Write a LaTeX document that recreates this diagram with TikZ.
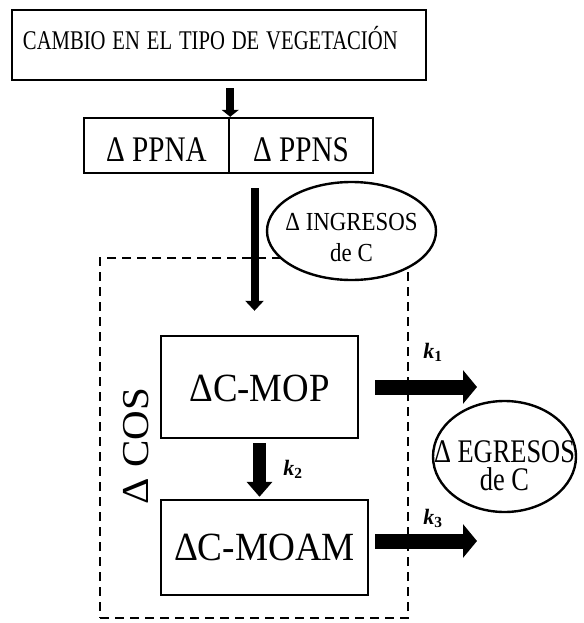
\documentclass[tikz,border=0pt]{standalone}
\usepackage{fontspec}
\setmainfont{Liberation Serif}
\usepackage{graphicx}
\usetikzlibrary{arrows.meta,shapes.geometric}
\newcommand{\sq}[2]{\scalebox{#1}[1]{#2}}
\newcommand{\ovaltext}[2]{\makebox[0pt]{\raisebox{#1}[0pt][0pt]{\begin{tabular}[t]{@{}c@{}}#2\end{tabular}}}}
\begin{document}
\begin{tikzpicture}[x=1pt,y=-1pt,
  bx/.style={draw, line width=2.4pt, inner sep=0pt, text depth=0pt},
  oval/.style={ellipse, draw, line width=2.4pt, fill=white, inner sep=0pt},
  klab/.style={font=\fontsize{22pt}{24pt}\selectfont\bfseries\itshape},
  cosbox/.style={draw, line width=2.2pt, dash pattern=on 9pt off 6pt, inner sep=0pt}]
\useasboundingbox (0,0) rectangle (583,623);

% boxes
\node[bx, minimum width=414pt, minimum height=70pt, text width=400pt, inner xsep=7pt,
      align=left, text height=10pt, font=\fontsize{27pt}{30pt}\selectfont]
      (top) at (219,45) {\hspace*{4pt}\sq{0.765}{CAMBIO EN EL TIPO DE VEGETACIÓN}};
\node[bx, minimum width=145pt, minimum height=55pt, text height=31pt,
      font=\fontsize{36pt}{40pt}\selectfont] (ppna) at (156.5,145.5) {\sq{0.81}{Δ PPNA}};
\node[bx, minimum width=144pt, minimum height=55pt, text height=31pt,
      font=\fontsize{36pt}{40pt}\selectfont] (ppns) at (301,145.5) {\sq{0.81}{Δ PPNS}};

\node[cosbox, minimum width=308pt, minimum height=360pt] (cos) at (254,438) {};

\node[bx, minimum width=197pt, minimum height=102pt, text height=28pt,
      font=\fontsize{40pt}{44pt}\selectfont] (mop) at (259.5,387) {\sq{0.92}{ΔC-MOP}};
\node[bx, minimum width=207pt, minimum height=95pt, text height=25pt,
      font=\fontsize{40pt}{44pt}\selectfont] (moam) at (264.5,547.5) {\sq{0.93}{ΔC-MOAM}};

\node[rotate=90, inner sep=0pt, text height=25pt, text depth=0pt,
      font=\fontsize{38pt}{40pt}\selectfont] (coslab) at (135.5,446) {\sq{1.08}{Δ COS}};

% ellipses
\node[oval, minimum width=169pt, minimum height=98pt, font=\fontsize{26pt}{31pt}\selectfont]
      (ing) at (351.5,231) {\ovaltext{1pt}{\sq{0.88}{Δ INGRESOS}\\\sq{0.88}{de C}}};
\node[oval, minimum width=143pt, minimum height=111pt, font=\fontsize{33pt}{28pt}\selectfont]
      (egr) at (504.5,456.5) {\ovaltext{-5.5pt}{\sq{0.8}{Δ EGRESOS}\\[-3pt]\sq{0.8}{de C}}};

% arrows
\coordinate (a1) at (top.south -| ppna.north east);
\draw[line width=8pt, -{Triangle[length=7pt,width=17pt]}, shorten <=7pt]
  (a1) -- (ppna.north east);

\path ([xshift=-5pt]mop.north) coordinate (a2e);
\coordinate (a2s) at (a2e |- ppna.south);
\draw[line width=8pt, -{Triangle[length=10pt,width=18pt]}, shorten <=14pt, shorten >=24pt]
  (a2s) -- (a2e);

\coordinate (k2e) at (mop.south |- moam.north);
\draw[line width=13pt, -{Triangle[length=15pt,width=25pt]}, shorten <=4pt, shorten >=2pt]
  (mop.south) -- (k2e);

\coordinate (k1e) at (477,387);
\draw[line width=15pt, -{Triangle[length=14pt,width=33pt]}, shorten <=16pt]
  (mop.east) -- (k1e);

\coordinate (k3e) at (477,541);
\coordinate (k3s) at (moam.east |- k3e);
\draw[line width=15pt, -{Triangle[length=14pt,width=33pt]}, shorten <=6pt]
  (k3s) -- (k3e);

% labels
\node[klab] (k1) at (433,352) {k\textsubscript{\upshape 1}};
\node[klab] (k2) at (293,469) {k\textsubscript{\upshape 2}};
\node[klab] (k3) at (433,518) {k\textsubscript{\upshape 3}};
\end{tikzpicture}
\end{document}
